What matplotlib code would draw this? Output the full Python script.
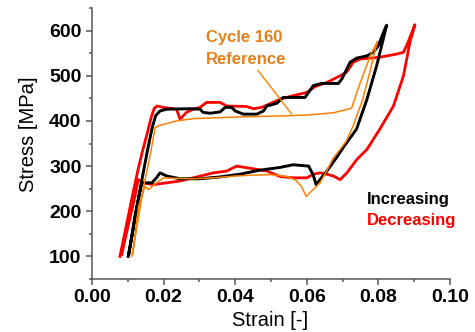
import numpy as np
import matplotlib
matplotlib.use('Agg')
import matplotlib.pyplot as plt
from matplotlib.ticker import MultipleLocator

plt.rcParams['font.family'] = 'Liberation Sans'

# Increasing amplitude (black): loading then unloading branch
inc_x_load = [0.0101, 0.0115, 0.0129, 0.0143, 0.0155, 0.0168, 0.0178, 0.0190, 0.0209, 0.0274,
              0.0302, 0.0310, 0.0330, 0.0358, 0.0372, 0.0390, 0.0400, 0.0423, 0.0460, 0.0479,
              0.0488, 0.0516, 0.0534, 0.0595, 0.0618, 0.0641, 0.0688, 0.0698, 0.0721, 0.0739,
              0.0768, 0.0786, 0.0800, 0.0814, 0.0823]
inc_y_load = [100, 159, 226, 285, 335, 385, 412, 422, 426, 427,
              426, 419, 417, 420, 430, 430, 422, 415, 415, 422,
              433, 439, 452, 452, 478, 483, 483, 493, 530, 539,
              544, 552, 567, 596, 612]
inc_x_unload = [0.0823, 0.0810, 0.0795, 0.0768, 0.0739, 0.0705, 0.0684, 0.0656, 0.0637, 0.0626,
                0.0618, 0.0605, 0.0562, 0.0525, 0.0469, 0.0413, 0.0358, 0.0302, 0.0246, 0.0209,
                0.0190, 0.0180, 0.0167, 0.0148, 0.0139, 0.0120, 0.0103]
inc_y_unload = [612, 570, 522, 448, 382, 345, 320, 289, 270, 259,
                280, 300, 303, 297, 291, 282, 276, 272, 272, 278,
                285, 274, 263, 263, 262, 190, 105]

# Decreasing amplitude (red)
dec_x_load = [0.0078, 0.0095, 0.0113, 0.0128, 0.0140, 0.0155, 0.0166, 0.0174, 0.0182, 0.0199,
              0.0236, 0.0246, 0.0264, 0.0283, 0.0302, 0.0320, 0.0358, 0.0376, 0.0432, 0.0451,
              0.0474, 0.0525, 0.0562, 0.0600, 0.0623, 0.0656, 0.0693, 0.0711, 0.0730, 0.0749,
              0.0804, 0.0851, 0.0870, 0.0879, 0.0902]
dec_y_load = [100, 165, 235, 290, 330, 375, 410, 428, 433, 430,
              426, 404, 419, 426, 430, 441, 441, 433, 432, 427,
              430, 448, 456, 463, 476, 485, 500, 508, 530, 537,
              541, 548, 552, 567, 613]
dec_x_unload = [0.0902, 0.0888, 0.0870, 0.0842, 0.0804, 0.0768, 0.0740, 0.0712, 0.0693, 0.0674,
                0.0656, 0.0637, 0.0618, 0.0600, 0.0563, 0.0525, 0.0488, 0.0451, 0.0404, 0.0376,
                0.0339, 0.0283, 0.0246, 0.0209, 0.0171, 0.0143, 0.0129, 0.0120, 0.0092, 0.0083]
dec_y_unload = [613, 574, 500, 433, 382, 337, 315, 285, 270, 278,
                282, 285, 282, 274, 274, 277, 289, 294, 300, 289,
                285, 274, 267, 263, 259, 263, 270, 233, 137, 104]

# Reference cycle 160 (orange)
ref_x_load = [0.0111, 0.0129, 0.0143, 0.0162, 0.0176, 0.0185, 0.0236, 0.0283, 0.0350, 0.0420,
              0.0525, 0.0600, 0.0674, 0.0725, 0.0745, 0.0777, 0.0797]
ref_y_load = [100, 182, 250, 322, 385, 389, 400, 405, 407, 409,
              411, 413, 418, 428, 475, 544, 576]
ref_x_unload = [0.0797, 0.0775, 0.0755, 0.0730, 0.0710, 0.0693, 0.0674, 0.0656, 0.0637, 0.0618,
                0.0598, 0.0585, 0.0570, 0.0550, 0.0500, 0.0450, 0.0400, 0.0340, 0.0280, 0.0230,
                0.0200, 0.0180, 0.0158, 0.0148, 0.0130, 0.0114]
ref_y_unload = [576, 505, 445, 390, 355, 337, 318, 290, 263, 248,
                233, 255, 268, 276, 281, 280, 278, 274, 272, 273,
                274, 263, 248, 255, 210, 105]

fig = plt.figure(figsize=(4.75, 3.32), dpi=100)
ax = fig.add_axes([0.1937, 0.1596, 0.7537, 0.8163])

ax.plot(dec_x_load + dec_x_unload, dec_y_load + dec_y_unload, color='#ff0000', lw=2.0,
        solid_joinstyle='round')
ax.plot(inc_x_load + inc_x_unload, inc_y_load + inc_y_unload, color='black', lw=2.1,
        solid_joinstyle='round')
ax.plot(ref_x_load + ref_x_unload, ref_y_load + ref_y_unload, color='#ff8000', lw=1.1)

ax.set_xlim(0, 0.10)
ax.set_ylim(50, 650)
ax.xaxis.set_major_locator(MultipleLocator(0.02))
ax.xaxis.set_minor_locator(MultipleLocator(0.01))
ax.yaxis.set_major_locator(MultipleLocator(100))
ax.yaxis.set_minor_locator(MultipleLocator(50))
ax.set_yticks([100, 200, 300, 400, 500, 600])
ax.xaxis.set_major_formatter(plt.FuncFormatter(lambda v, p: f'{v:.2f}'))

for side in ['top', 'right']:
    ax.spines[side].set_visible(False)
for side in ['left', 'bottom']:
    ax.spines[side].set_color('#555555')
    ax.spines[side].set_linewidth(1.1)

ax.tick_params(which='major', length=4, width=1.1, color='#555555', pad=3.5,
               labelsize=14)
ax.tick_params(which='minor', length=2.5, width=1.1, color='#555555')
for lab in ax.get_xticklabels() + ax.get_yticklabels():
    lab.set_fontweight('bold')

ax.set_xlabel('Strain [-]', fontsize=14.5)
ax.set_ylabel('Stress [MPa]', fontsize=14.5)
ax.xaxis.set_label_coords(0.497, -0.118)
ax.yaxis.set_label_coords(-0.152, 0.535)

ref_color = '#e5801a'
ax.text(0.0318, 584, 'Cycle 160', color=ref_color, fontsize=12, fontweight='bold',
        va='center', ha='left')
ax.annotate('Reference', xy=(0.0558, 415), xytext=(0.0318, 535), color=ref_color,
            fontsize=12, fontweight='bold', va='center', ha='left',
            arrowprops=dict(arrowstyle='-', color='#ff8000', lw=1.0,
                            relpos=(0.62, 0.0), shrinkA=0, shrinkB=0))

ax.text(0.0768, 226, 'Increasing', color='black', fontsize=12, fontweight='bold',
        va='center', ha='left')
ax.text(0.0768, 179, 'Decreasing', color='#ff0000', fontsize=12, fontweight='bold',
        va='center', ha='left')

fig.savefig('out.png', dpi=100)
